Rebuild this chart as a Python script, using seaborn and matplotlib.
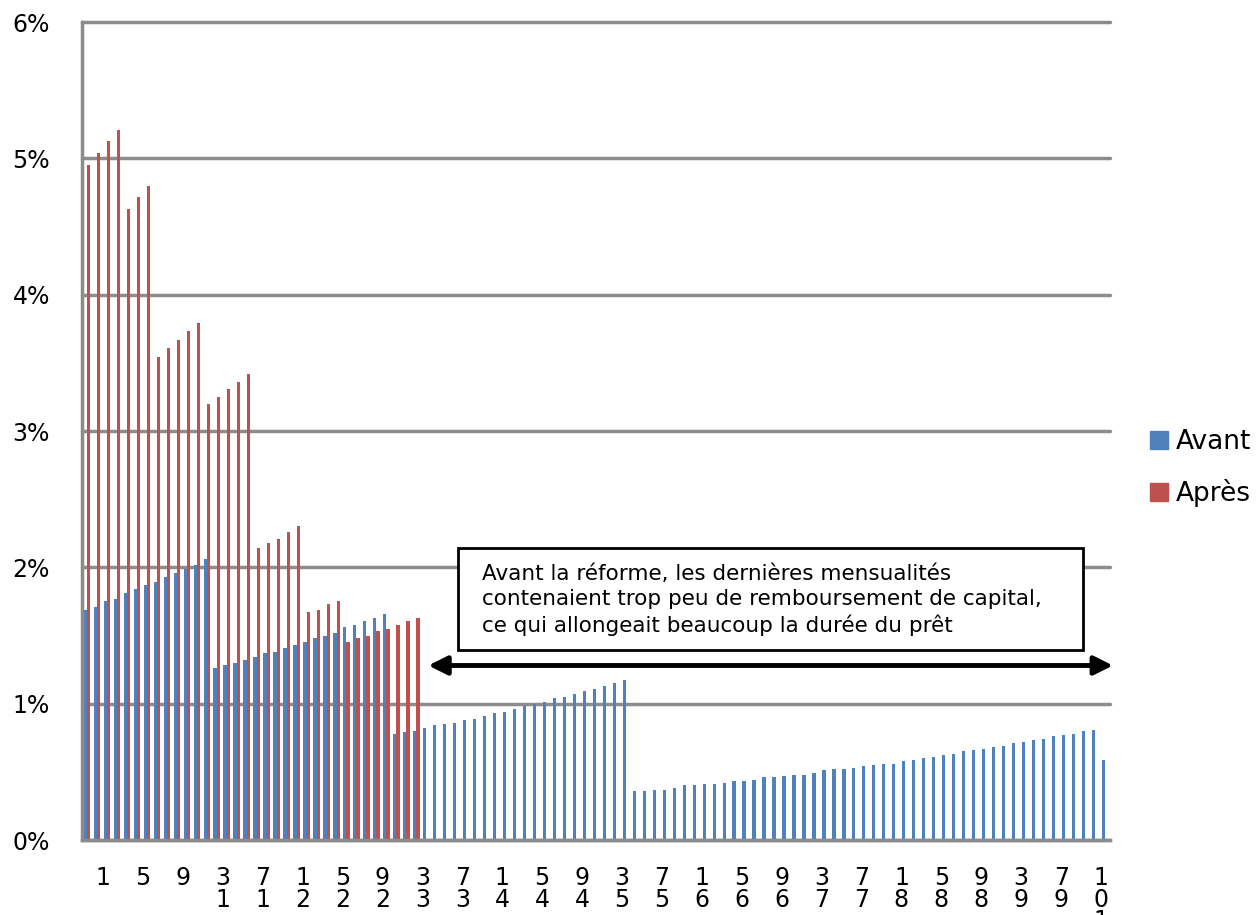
import numpy as np
import pandas as pd
import seaborn as sns
import matplotlib.pyplot as plt
import matplotlib.ticker as ticker
from matplotlib.patches import Rectangle
from matplotlib.transforms import ScaledTranslation

# valeurs (en %)
avant = [1.69, 1.71, 1.75, 1.77, 1.81, 1.84, 1.87, 1.89, 1.93, 1.96,
         1.99, 2.02, 2.06, 1.26, 1.28, 1.30, 1.32, 1.34, 1.37, 1.38,
         1.41, 1.43, 1.45, 1.48, 1.50, 1.52, 1.56, 1.58, 1.61, 1.63,
         1.66, 0.78, 0.79, 0.80, 0.82, 0.84, 0.85, 0.86, 0.88, 0.89,
         0.91, 0.93, 0.94, 0.96, 0.98, 1.00, 1.01, 1.04, 1.05, 1.07,
         1.09, 1.11, 1.13, 1.15, 1.17, 0.36, 0.36, 0.37, 0.37, 0.38,
         0.40, 0.40, 0.41, 0.41, 0.42, 0.43, 0.43, 0.44, 0.46, 0.46,
         0.47, 0.48, 0.48, 0.49, 0.51, 0.52, 0.52, 0.53, 0.54, 0.55,
         0.56, 0.56, 0.58, 0.59, 0.60, 0.61, 0.62, 0.63, 0.65, 0.66,
         0.67, 0.68, 0.69, 0.71, 0.72, 0.73, 0.74, 0.76, 0.77, 0.78,
         0.80, 0.81, 0.59]
apres = [4.95, 5.04, 5.13, 5.21, 4.63, 4.72, 4.80, 3.54, 3.61, 3.67,
         3.73, 3.79, 3.20, 3.25, 3.31, 3.36, 3.42, 2.14, 2.18, 2.21,
         2.26, 2.30, 1.67, 1.69, 1.73, 1.75, 1.45, 1.48, 1.50, 1.53,
         1.55, 1.58, 1.61, 1.63]
mois = list(range(1, len(avant) + 1))
tick_mois = list(range(1, 102, 4))

apres_full = apres + [np.nan] * (len(avant) - len(apres))
df = pd.DataFrame({"mois": mois * 2,
                   "valeur": avant + apres_full,
                   "serie": ["Avant"] * len(avant) + ["Après"] * len(avant)})
df = df.dropna()

sns.set_style("white")
plt.rcParams['font.family'] = ['DejaVu Sans']
plt.rcParams['text.color'] = 'black'
plt.rcParams['xtick.labelcolor'] = 'black'
plt.rcParams['ytick.labelcolor'] = 'black'

fig = plt.figure(figsize=(12.58, 9.15), dpi=100)
ax = fig.add_axes([82/1258, 1-840/915, 1028/1258, 818/915])

sns.barplot(data=df, x="mois", y="valeur", hue="serie", order=mois,
            hue_order=["Avant", "Après"], palette=["#4F81BD", "#C0504D"],
            width=0.65, errorbar=None, ax=ax, legend=False, saturation=1,
            linewidth=0)

ax.set_xlim(-0.5, len(avant) - 0.5)
ax.set_ylim(0, 6)
ax.set_xlabel("")
ax.set_ylabel("")

grey = "#8c8c8c"
ax.yaxis.set_major_locator(ticker.MultipleLocator(1))
ax.yaxis.set_major_formatter(ticker.FuncFormatter(lambda v, p: "%d%%" % v))
ax.grid(axis="y", color=grey, lw=2.5)
ax.set_axisbelow(True)
for line in ax.get_ygridlines():
    line.set_clip_on(False)
for s in ["top", "right"]:
    ax.spines[s].set_visible(False)
for s in ["left", "bottom"]:
    ax.spines[s].set_color(grey)
    ax.spines[s].set_linewidth(2.5)
ax.tick_params(axis="y", length=9, width=2.5, color=grey, labelsize=17, pad=14)

# graduations entre les catégories, étiquettes tous les 4 mois
ax.xaxis.set_minor_locator(ticker.FixedLocator(np.arange(-0.5, len(avant), 1)))
ax.set_xticks([m - 1 for m in tick_mois])
labels = ["\n".join(reversed(str(m))) for m in tick_mois]
ax.set_xticklabels(labels, fontsize=17, linespacing=0.85, va="top")
ax.tick_params(axis="x", which="major", length=0, pad=19)
ax.tick_params(axis="x", which="minor", length=6, width=2.5, color=grey)
offset = ScaledTranslation(0.16, 0, fig.dpi_scale_trans)
for lab in ax.get_xticklabels():
    lab.set_transform(lab.get_transform() + offset)

# légende
handles = [Rectangle((0, 0), 1, 1, color="#4F81BD"), Rectangle((0, 0), 1, 1, color="#C0504D")]
fig.legend(handles, ["Avant", "Après"], loc="center left",
           bbox_to_anchor=(1142/1258, 1-468/915), frameon=False, fontsize=19,
           handlelength=0.68, handleheight=0.68, handletextpad=0.3, labelspacing=0.9,
           borderaxespad=0, borderpad=0.3)

# flèche et encadré
ax.annotate("", xy=(102.8, 1.28), xytext=(34.2, 1.28), annotation_clip=False,
            arrowprops=dict(arrowstyle="<|-|>", lw=3.5, color="black",
                            mutation_scale=28, shrinkA=0, shrinkB=0))
fig.patches.append(Rectangle((458/1258, 1-650/915), 625/1258, 102/915,
                             transform=fig.transFigure, facecolor="white",
                             edgecolor="black", lw=2, zorder=5))
fig.text(482/1258, 1-600/915,
         "Avant la réforme, les dernières mensualités\n"
         "contenaient trop peu de remboursement de capital,\n"
         "ce qui allongeait beaucoup la durée du prêt",
         fontsize=15.5, ha="left", va="center", linespacing=1.3, zorder=6)

plt.savefig("out.png", dpi=100)
